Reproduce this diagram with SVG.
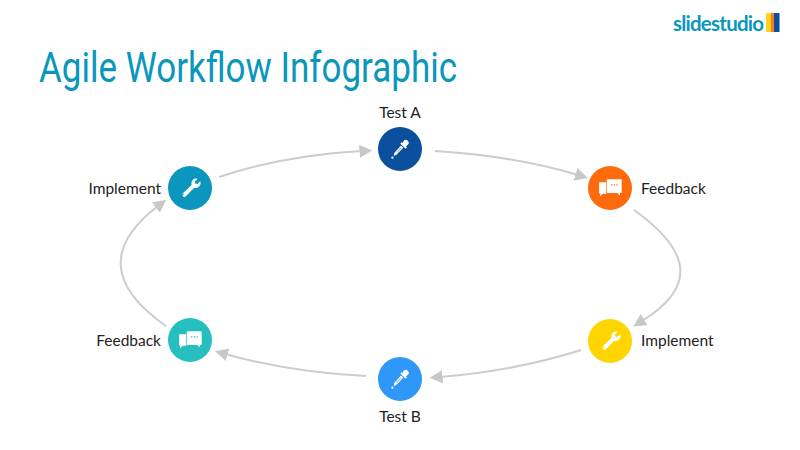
<svg xmlns="http://www.w3.org/2000/svg" width="800" height="450" viewBox="0 0 800 450">
<style>
.lbl{font-family:"Lato","Liberation Sans",sans-serif;font-size:15.5px;fill:#222}
.title{font-family:"Roboto","Liberation Sans",sans-serif;font-size:42px;fill:#0a96bd}
.brand{font-family:"Lato","Liberation Sans",sans-serif;font-size:20.5px;font-weight:700;fill:#0a96bd}
.conn{fill:none;stroke:#cccccc;stroke-width:2;marker-end:url(#arrow)}
.ic{fill:#fff}
</style>
<defs>
<marker id="arrow" viewBox="0 0 10 10" refX="2" refY="5" markerWidth="13" markerHeight="13" markerUnits="userSpaceOnUse" orient="auto"><path d="M0 0L10 5L0 10Z" fill="#c8c8c8"/></marker>
<g id="dropper"><path class="ic" d="M3.500 -8a2.900 2.900 0 0 1 4.300 -0.300a2.900 2.900 0 0 1 -0.300 4.300l-1.500 1.500l0.900 0.900l-1.400 1.400l-5.200 -5.200l1.400 -1.400l0.900 0.900Z"/><path d="M1 -3.500L3.300 -1.200L-3.800 6L-6.300 7L-5.800 4Z" fill="#fff"/><path d="M1 -1.800L1.800 -1L-3 4L-3.900 3.100Z" fill="#0b4f9e" fill-opacity="0.35"/><circle class="ic" cx="-7.600" cy="8.700" r="1.100"/></g>
<g id="wrench"><path class="ic" fill-rule="evenodd" d="M10.200 -6.800l-2.800 2.800l-2.100 -0.400l-0.400 -2.100l2.800 -2.800a4.900 4.900 0 0 0 -6.200 6.200l-8.600 8.400a2.100 2.100 0 0 0 3 3l8.400 -8.600a4.900 4.900 0 0 0 6 -6.500ZM-7.200 5.400a0.900 0.900 0 1 0 0.010 0Z"/></g>
<g id="chat"><path class="ic" d="M-9 -5.700h5v10.200a1.500 1.500 0 0 0 1.300 1.300h-4.500l-2.700 2.400v-2.400a1 1 0 0 1 -1 -1v-9.100a1 1 0 0 1 0.900 -1.400Z"/><path class="ic" fill-rule="evenodd" d="M-2.300 -8.700h13a1 1 0 0 1 1 1v11.600a1 1 0 0 1 -1 1h-0.700v2.700l-2.700 -2.700h-9.600a1 1 0 0 1 -1 -1v-11.600a1 1 0 0 1 1 -1ZM1 -3.700v1.300h1.300v-1.300ZM3.700 -3.700v1.300h1.300v-1.300ZM6.400 -3.700v1.300h1.300v-1.300Z"/></g>
</defs>
<rect width="800" height="450" fill="#fff"/>
<text class="title" x="39" y="82" textLength="418" lengthAdjust="spacingAndGlyphs">Agile Workflow Infographic</text>
<g id="logo">
<text class="brand" x="673" y="31" textLength="91" lengthAdjust="spacing">slidestudio</text>
<rect x="766" y="13" width="5" height="19" rx="1" fill="#ffd21f"/><rect x="771" y="13" width="3" height="19" fill="#ff7a1a"/><rect x="774" y="13" width="5.500" height="19" fill="#0b4f9e"/>
</g>
<g id="connectors">
<path class="conn" d="M435 151Q515 156 578 175"/>
<path class="conn" d="M634 210C697 255 692 290 642 321"/>
<path class="conn" d="M581 350Q515 371 440 377"/>
<path class="conn" d="M366 376Q290 372 225 354"/>
<path class="conn" d="M166 326C107 285 107 245 158 206"/>
<path class="conn" d="M219 177Q285 155 362 151"/>
</g>
<g id="node-test-a"><circle cx="400" cy="149" r="22" fill="#0b4f9e"/><use href="#dropper" x="400" y="149"/><text class="lbl" x="400" y="118" text-anchor="middle">Test A</text></g>
<g id="node-feedback-r"><circle cx="610" cy="188" r="22" fill="#ff6a0d"/><use href="#chat" x="610" y="188"/><text class="lbl" x="641" y="194">Feedback</text></g>
<g id="node-implement-r"><circle cx="610" cy="341" r="22" fill="#ffd500"/><use href="#wrench" x="610" y="341"/><text class="lbl" x="641" y="346">Implement</text></g>
<g id="node-test-b"><circle cx="400" cy="379" r="22" fill="#2e97f7"/><use href="#dropper" x="400" y="379"/><text class="lbl" x="400" y="422" text-anchor="middle">Test B</text></g>
<g id="node-feedback-l"><circle cx="190" cy="340" r="22" fill="#26bfbf"/><use href="#chat" x="190" y="340"/><text class="lbl" x="161" y="346" text-anchor="end">Feedback</text></g>
<g id="node-implement-l"><circle cx="190" cy="188" r="22" fill="#0a96bd"/><use href="#wrench" x="190" y="188"/><text class="lbl" x="161" y="194" text-anchor="end">Implement</text></g>
</svg>
